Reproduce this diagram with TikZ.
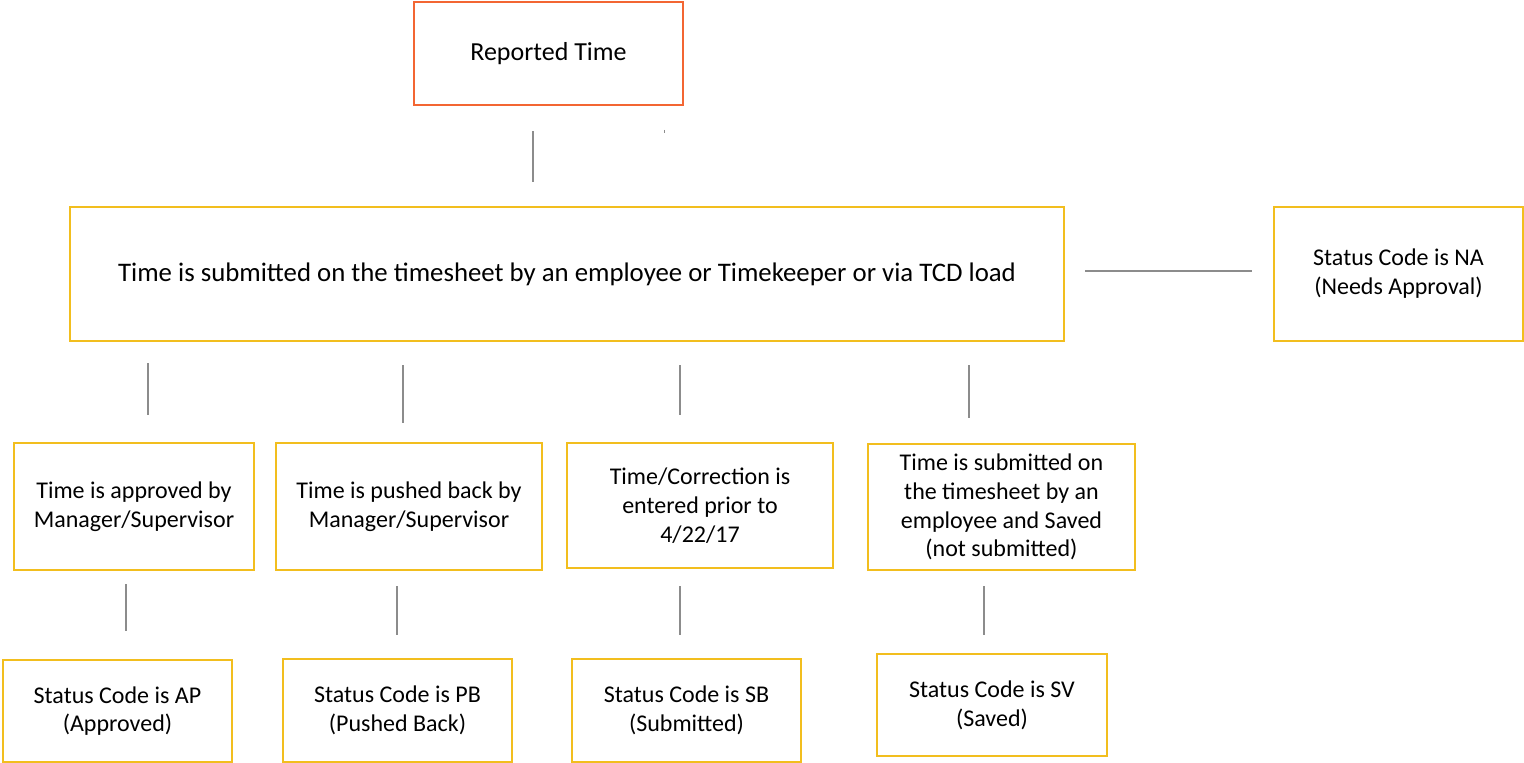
\documentclass[tikz,border=0pt]{standalone}
\usepackage{fontspec}
\setmainfont{Carlito}
\definecolor{boxgold}{RGB}{242,190,30}
\definecolor{boxorange}{RGB}{243,102,51}
\definecolor{linegray}{RGB}{140,140,140}
\begin{document}
\begin{tikzpicture}[x=0.5pt,y=-0.5pt,
  gbox/.style={draw=boxgold,line width=1.2pt,inner sep=0pt,align=center,
    font=\fontsize{12pt}{14.4pt}\selectfont},
  obox/.style={draw=boxorange,line width=1.2pt,inner sep=0pt,align=center,
    font=\fontsize{13pt}{15.6pt}\selectfont},
  conn/.style={draw=linegray,line width=1.1pt}]
\useasboundingbox (0,0) rectangle (1524,763);
% top
\node[obox,minimum width=134.5pt,minimum height=51.5pt] (rt) at (548.5,53.5) {Reported Time};
\node[gbox,minimum width=497pt,minimum height=67pt,font=\fontsize{13.4pt}{16pt}\selectfont,
  text depth=1.5pt] (main) at (567,274)
  {Time is submitted on the timesheet by an employee or Timekeeper or via TCD load};
\node[gbox,minimum width=124.5pt,minimum height=67pt] (na) at (1398.5,274)
  {Status Code is NA\\(Needs Approval)};
% level 2
\node[gbox,minimum width=120pt,minimum height=63.5pt] (a) at (134,506.5)
  {Time is approved by\\Manager/Supervisor};
\node[gbox,minimum width=133pt,minimum height=63.5pt] (b) at (409,506.5)
  {Time is pushed back by\\Manager/Supervisor};
\node[gbox,minimum width=133pt,minimum height=62.5pt] (c) at (700,505.5)
  {Time/Correction is\\entered prior to\\4/22/17};
\node[gbox,minimum width=133.5pt,minimum height=63pt] (d) at (1001.5,507)
  {Time is submitted on\\the timesheet by an\\employee and Saved\\(not submitted)};
% level 3
\node[gbox,minimum width=114.5pt,minimum height=51pt] (ap) at (117.5,711)
  {Status Code is AP\\(Approved)};
\node[gbox,minimum width=114.5pt,minimum height=51.5pt] (pb) at (397.5,710.5)
  {Status Code is PB\\(Pushed Back)};
\node[gbox,minimum width=114.5pt,minimum height=51.5pt] (sb) at (686.5,710.5)
  {Status Code is SB\\(Submitted)};
\node[gbox,minimum width=115pt,minimum height=51pt] (sv) at (992,705)
  {Status Code is SV\\(Saved)};
% connectors
\draw[conn] ([xshift=-7.75pt,yshift=-12.5pt]rt.south) -- ([xshift=-17pt,yshift=12pt]main.north);
\coordinate (tick) at (664,130);
\draw[draw=linegray,line width=0.5pt] (tick) -- ++(0,3);
\draw[conn] ([xshift=10pt,yshift=1.5pt]main.east) -- ([xshift=-10.5pt,yshift=1.5pt]na.west);
\draw[conn] ([xshift=-209.5pt,yshift=-10.5pt]main.south) -- ([xshift=7pt,yshift=13.5pt]a.north);
\draw[conn] ([xshift=-82pt,yshift=-11.5pt]main.south) -- ([xshift=-3pt,yshift=9.5pt]b.north);
\draw[conn] ([xshift=56.5pt,yshift=-11.5pt]main.south) -- ([xshift=-10pt,yshift=13.5pt]c.north);
\draw[conn] ([xshift=201pt,yshift=-11.5pt]main.south) -- ([xshift=-16.25pt,yshift=12.5pt]d.north);
\draw[conn] ([xshift=-4pt,yshift=-6.5pt]a.south) -- ([xshift=4.25pt,yshift=14pt]ap.north);
\draw[conn] ([xshift=-6pt,yshift=-7.5pt]b.south) -- ([xshift=-0.25pt,yshift=11.5pt]pb.north);
\draw[conn] ([xshift=-10pt,yshift=-8.5pt]c.south) -- ([xshift=-3.25pt,yshift=11.5pt]sb.north);
\draw[conn] ([xshift=-8.75pt,yshift=-7.5pt]d.south) -- ([xshift=-4pt,yshift=9pt]sv.north);
\end{tikzpicture}
\end{document}
